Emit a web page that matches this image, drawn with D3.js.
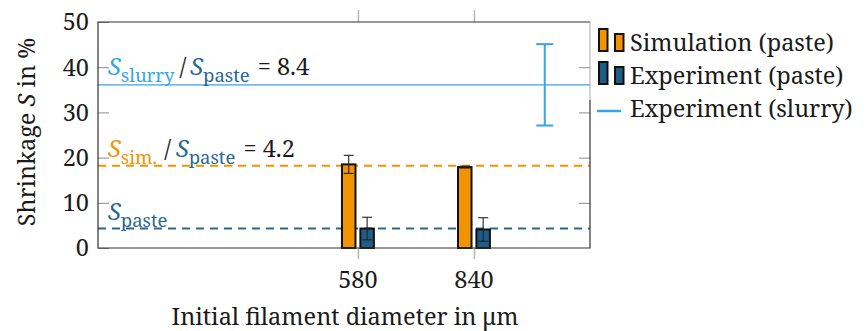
<!DOCTYPE html>
<html lang="en">
<head>
    <meta charset="utf-8">
    <title>Shrinkage vs. initial filament diameter</title>
    <style>
        body {
            margin: 0;
            background: #fff;
        }
    </style>
</head>
<body>
    <svg id="chart" width="866" height="331"></svg>

    <script src="https://cdn.jsdelivr.net/npm/d3@7"></script>
    <script>
        // Data
        const categories = ["580", "840"];
        const simValues = [18.5, 17.9];
        const simErrors = [2.0, 0.2];
        const expValues = [4.3, 4.1];
        const expErrors = [2.5, 2.6];

        // slurry experiment: mean and spread, shown as a single error bar
        const slurryMean = [36.1];
        const slurryError = [9.0];
        const slurryPos = [1.61];

        // reference lines (mean values)
        const simMean = 18.2;
        const pasteMean = 4.3;

        const yTicks = [0, 10, 20, 30, 40, 50];

        const colors = {
            sim: "#f29400",
            exp: "#1f5d88",
            slurry: "#36a5e8",
            pasteLine: "#2a6893"
        };

        const FONT = "Noto Serif, Liberation Serif, serif";
        const FS = 23.5, FS_SUB = 18.5;

        const svg = d3.select("#chart");
        const margin = {left: 98, right: 276, top: 22, bottom: 83};
        const W = 866, H = 331;

        const x = d3.scaleLinear()
            .domain([-2.24, 2])
            .range([margin.left, W - margin.right]);

        const y = d3.scaleLinear()
            .domain([0, 50])
            .range([H - margin.bottom, margin.top]);

        const barW = 13.5, barOff = 9.2;
        const gray = "#8c8c8c";

        function txt(sel) {
            return sel.attr("font-family", FONT).attr("font-size", FS).attr("fill", "#1a1a1a");
        }

        // ticks (inside on the left/right, outside on top/bottom)
        const yAxisL = d3.axisLeft(y).tickValues(yTicks).tickSize(-11).tickFormat("");
        const yAxisR = d3.axisRight(y).tickValues(yTicks.slice(1, -1)).tickSize(-11).tickFormat("");
        svg.append("g").attr("transform", `translate(${margin.left},0)`).call(yAxisL)
            .call(g => g.select(".domain").remove())
            .selectAll("line").attr("stroke", gray);
        svg.append("g").attr("transform", `translate(${W - margin.right},0)`).call(yAxisR)
            .call(g => g.select(".domain").remove())
            .selectAll("line").attr("stroke", gray);

        const xIdx = categories.map((c, i) => i);
        const xAxisB = d3.axisBottom(x).tickValues(xIdx).tickSize(11).tickFormat("");
        const xAxisT = d3.axisTop(x).tickValues(xIdx).tickSize(12).tickFormat("");
        svg.append("g").attr("transform", `translate(0,${y(0)})`).call(xAxisB)
            .call(g => g.select(".domain").remove())
            .selectAll("line").attr("stroke", "#b5b5b5").attr("stroke-width", 1.5);
        svg.append("g").attr("transform", `translate(0,${y(50)})`).call(xAxisT)
            .call(g => g.select(".domain").remove())
            .selectAll("line").attr("stroke", "#b5b5b5").attr("stroke-width", 1.5);

        // y tick labels
        svg.append("g").selectAll("text")
            .data(yTicks)
            .join("text")
            .call(txt)
            .attr("x", margin.left - 9)
            .attr("y", d => y(d))
            .attr("dy", "0.36em")
            .attr("text-anchor", "end")
            .text(d => d);

        // x tick labels
        svg.append("g").selectAll("text")
            .data(categories)
            .join("text")
            .call(txt)
            .attr("x", (d, i) => x(i))
            .attr("y", 288)
            .attr("text-anchor", "middle")
            .text(d => d);

        // axis titles
        svg.append("text")
            .call(txt)
            .attr("x", 345)
            .attr("y", 325)
            .attr("text-anchor", "middle")
            .text("Initial filament diameter in μm");

        const yTitle = svg.append("text")
            .call(txt)
            .attr("transform", `translate(35,132) rotate(-90)`)
            .attr("text-anchor", "middle");
        yTitle.append("tspan").text("Shrinkage ");
        yTitle.append("tspan").attr("font-style", "italic").text("S");
        yTitle.append("tspan").text(" in %");

        // reference lines
        const x0 = margin.left, x1 = W - margin.right;
        svg.append("line")
            .attr("x1", x0).attr("x2", x1)
            .attr("y1", y(slurryMean[0])).attr("y2", y(slurryMean[0]))
            .attr("stroke", colors.slurry).attr("stroke-width", 1.3);
        svg.append("line")
            .attr("x1", x0).attr("x2", x1)
            .attr("y1", y(simMean)).attr("y2", y(simMean))
            .attr("stroke", colors.sim).attr("stroke-width", 2)
            .attr("stroke-dasharray", "8,6");
        svg.append("line")
            .attr("x1", x0).attr("x2", x1)
            .attr("y1", y(pasteMean)).attr("y2", y(pasteMean))
            .attr("stroke", colors.pasteLine).attr("stroke-width", 2)
            .attr("stroke-dasharray", "8,6");

        // bars
        function drawBars(values, errors, color, offset) {
            const g = svg.append("g");
            g.selectAll("rect")
                .data(values)
                .join("rect")
                .attr("x", (d, i) => x(i) + offset - barW / 2)
                .attr("y", d => y(d))
                .attr("width", barW)
                .attr("height", d => y(0) - y(d))
                .attr("fill", color)
                .attr("stroke", "#111")
                .attr("stroke-width", 2);

            const eb = g.selectAll("g.err")
                .data(values.map((v, i) => ({v, e: errors[i], i})))
                .join("g")
                .attr("class", "err")
                .attr("stroke", "#222")
                .attr("stroke-width", 1.1);
            const cx = d => x(d.i) + offset;
            eb.append("line")
                .attr("x1", cx).attr("x2", cx)
                .attr("y1", d => y(d.v + d.e)).attr("y2", d => y(d.v - d.e));
            eb.append("line")
                .attr("x1", d => cx(d) - 5).attr("x2", d => cx(d) + 5)
                .attr("y1", d => y(d.v + d.e)).attr("y2", d => y(d.v + d.e));
            eb.append("line")
                .attr("x1", d => cx(d) - 5).attr("x2", d => cx(d) + 5)
                .attr("y1", d => y(d.v - d.e)).attr("y2", d => y(d.v - d.e));
        }
        drawBars(simValues, simErrors, colors.sim, -barOff);
        drawBars(expValues, expErrors, colors.exp, barOff);

        // slurry error bar
        const sg = svg.append("g").attr("stroke", colors.slurry).attr("stroke-width", 2);
        slurryMean.forEach((m, i) => {
            const sx = x(slurryPos[i]);
            sg.append("line").attr("x1", sx).attr("x2", sx)
                .attr("y1", y(m + slurryError[i])).attr("y2", y(m - slurryError[i]));
            sg.append("line").attr("x1", sx - 8.5).attr("x2", sx + 8.5)
                .attr("y1", y(m + slurryError[i])).attr("y2", y(m + slurryError[i]));
            sg.append("line").attr("x1", sx - 8.5).attr("x2", sx + 8.5)
                .attr("y1", y(m - slurryError[i])).attr("y2", y(m - slurryError[i]));
        });

        // plot frame (upper right part is covered by the legend box, so it is lighter)
        const splitY = 100;
        svg.append("path")
            .attr("d", `M${x1},${splitY}V${y(0)}H${x0}V${y(50)}H${x1}`)
            .attr("fill", "none").attr("stroke", "#333").attr("stroke-width", 1.2);
        svg.append("line")
            .attr("x1", x1).attr("x2", x1).attr("y1", y(50)).attr("y2", splitY)
            .attr("stroke", "#aaa").attr("stroke-width", 1);

        // annotations
        function ratioLabel(yy, parts) {
            const t = svg.append("text").call(txt).attr("x", 108).attr("y", yy);
            parts.forEach(p => {
                const s = t.append("tspan").text(p.text);
                if (p.color) s.attr("fill", p.color);
                if (p.italic) s.attr("font-style", "italic");
                if (p.sub) s.attr("font-size", FS_SUB).attr("dy", 7);
                if (p.up) s.attr("dy", -7);
                if (p.dx) s.attr("dx", p.dx);
            });
        }
        ratioLabel(75, [
            {text: "S", italic: true, color: colors.slurry},
            {text: "slurry", sub: true, color: colors.slurry},
            {text: "/", up: true, dx: 5},
            {text: "S", italic: true, color: colors.pasteLine, dx: 4},
            {text: "paste", sub: true, color: colors.pasteLine},
            {text: " = 8.4", up: true, dx: 2}
        ]);
        ratioLabel(157, [
            {text: "S", italic: true, color: colors.sim},
            {text: "sim.", sub: true, color: colors.sim},
            {text: "/", up: true, dx: 7},
            {text: "S", italic: true, color: colors.pasteLine, dx: 5},
            {text: "paste", sub: true, color: colors.pasteLine},
            {text: " = 4.2", up: true, dx: 2}
        ]);
        ratioLabel(220, [
            {text: "S", italic: true, color: colors.pasteLine},
            {text: "paste", sub: true, color: colors.pasteLine}
        ]);

        // legend
        const legendItems = [
            {label: "Simulation (paste)", type: "bar", color: colors.sim},
            {label: "Experiment (paste)", type: "bar", color: colors.exp},
            {label: "Experiment (slurry)", type: "line", color: colors.slurry}
        ];
        const lg = svg.append("g");
        legendItems.forEach((it, i) => {
            const base = 51 + i * 33;
            if (it.type === "bar") {
                lg.append("rect").attr("x", 599).attr("y", base - 22).attr("width", 8.5).attr("height", 22)
                    .attr("fill", it.color).attr("stroke", "#111").attr("stroke-width", 2);
                lg.append("rect").attr("x", 615).attr("y", base - 17).attr("width", 8.5).attr("height", 17)
                    .attr("fill", it.color).attr("stroke", "#111").attr("stroke-width", 2);
            } else {
                lg.append("line").attr("x1", 597).attr("x2", 621).attr("y1", base - 6).attr("y2", base - 6)
                    .attr("stroke", it.color).attr("stroke-width", 2.5);
            }
            lg.append("text").call(txt).attr("x", 630).attr("y", base).text(it.label);
        });
    </script>
</body>
</html>
